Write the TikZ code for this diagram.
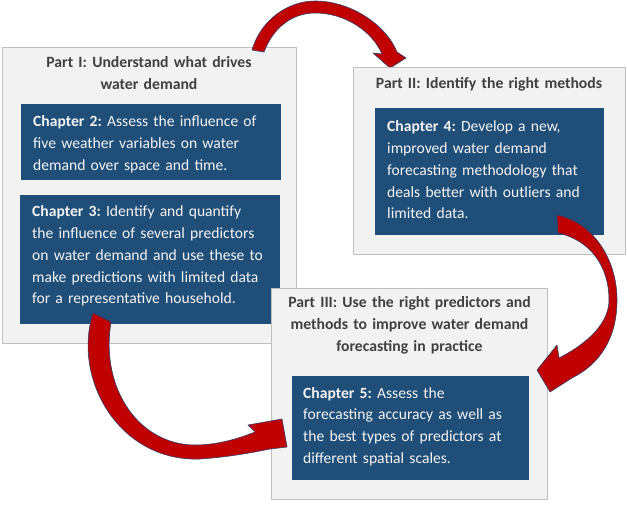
\documentclass[tikz,border=0pt]{standalone}
\usepackage{fontspec}
\setmainfont{Carlito}
\frenchspacing
\definecolor{boxfill}{HTML}{F2F2F2}
\definecolor{boxborder}{HTML}{BFBFBF}
\definecolor{chapblue}{HTML}{1F4E79}
\definecolor{chaptextcol}{HTML}{F4F4F4}
\definecolor{titlegray}{HTML}{404040}
\definecolor{arrowred}{HTML}{C00000}
\definecolor{arrowedge}{HTML}{2F3E6E}
\begin{document}
\begin{tikzpicture}[x=1pt,y=-1pt,
  partbox/.style={draw=boxborder, fill=boxfill, line width=0.9pt, inner sep=0pt, anchor=north west},
  chapbox/.style={fill=chapblue, inner sep=0pt, anchor=north west},
  titletext/.style={font=\fontsize{15.7}{22}\selectfont\bfseries\frenchspacing, text=titlegray, align=center, anchor=base, inner sep=0pt},
  chaptext/.style={font=\fontsize{15.6}{21.7}\selectfont\frenchspacing, text=chaptextcol, align=left, text width=250pt, anchor=base west, inner sep=0pt},
  blockarrow/.style={fill=arrowred, draw=arrowedge, line width=0.6pt, line join=round}]
\useasboundingbox (0,0) rectangle (627,505);

% Part I
\node[partbox, minimum width=294pt, minimum height=296pt] (p1) at (2,47) {};
\node[titletext, text width=294pt] (t1) at (149,68) {Part I: Understand what drives\\water demand};
\node[chapbox, minimum width=260pt, minimum height=76pt] (c2) at (21,104) {};
\node[chaptext] (x2) at (33,127) {{\bfseries Chapter 2:} Assess the influence of\\five weather variables on water\\demand over space and time.};
\node[chapbox, minimum width=260pt, minimum height=129pt] (c3) at (20,195) {};
\node[chaptext] (x3) at (32,217) {{\bfseries Chapter 3:} Identify and quantify\\the influence of several predictors\\on water demand and use these to\\make predictions with limited data\\for a representative household.};

% Arrow 1
\draw[blockarrow] (252,50) .. controls (261,19) and (289,1) .. (315,1)
  .. controls (351,1) and (386,25) .. (397,52) -- (406,58) -- (390,68) -- (373,53) -- (382,54)
  .. controls (372,31) and (345,13) .. (315,13)
  .. controls (292,13) and (273,28) .. (264,52) -- cycle;

% Part II
\node[partbox, minimum width=272pt, minimum height=187pt] (p2) at (353,67) {};
\node[titletext, text width=272pt] (t2) at (489,89) {Part II: Identify the right methods};
\node[chapbox, minimum width=229pt, minimum height=127pt] (c4) at (375,108) {};
\node[chaptext] (x4) at (387,132) {{\bfseries Chapter 4:} Develop a new,\\improved water demand\\forecasting methodology that\\deals better with outliers and\\limited data.};

% Part III
\node[partbox, minimum width=276pt, minimum height=211pt] (p3) at (271,288) {};
\node[titletext, text width=276pt] (t3) at (409.5,308) {Part III: Use the right predictors and\\methods to improve water demand\\forecasting in practice};
\node[chapbox, minimum width=237pt, minimum height=104pt] (c5) at (292,376) {};
\node[chaptext] (x5) at (303,398) {{\bfseries Chapter 5:} Assess the\\forecasting accuracy as well as\\the best types of predictors at\\different spatial scales.};

% Arrow 2
\draw[blockarrow] (557,215) .. controls (592,222) and (617,258) .. (617,300)
  .. controls (617,338) and (600,364) .. (572,378) -- (550,392) -- (537,370) -- (557,345) -- (559,358)
  .. controls (590,342) and (609,322) .. (609,300)
  .. controls (609,266) and (590,240) .. (558,233) -- cycle;

% Arrow 3
\draw[blockarrow] (93,313) .. controls (72,380) and (120,462) .. (200,459)
  .. controls (230,457) and (255,452) .. (270,449) -- (287,447) -- (282,419) -- (248,425) -- (255,432)
  .. controls (235,440) and (215,445) .. (195,445)
  .. controls (140,445) and (100,390) .. (111,322) -- cycle;
\end{tikzpicture}
\end{document}
